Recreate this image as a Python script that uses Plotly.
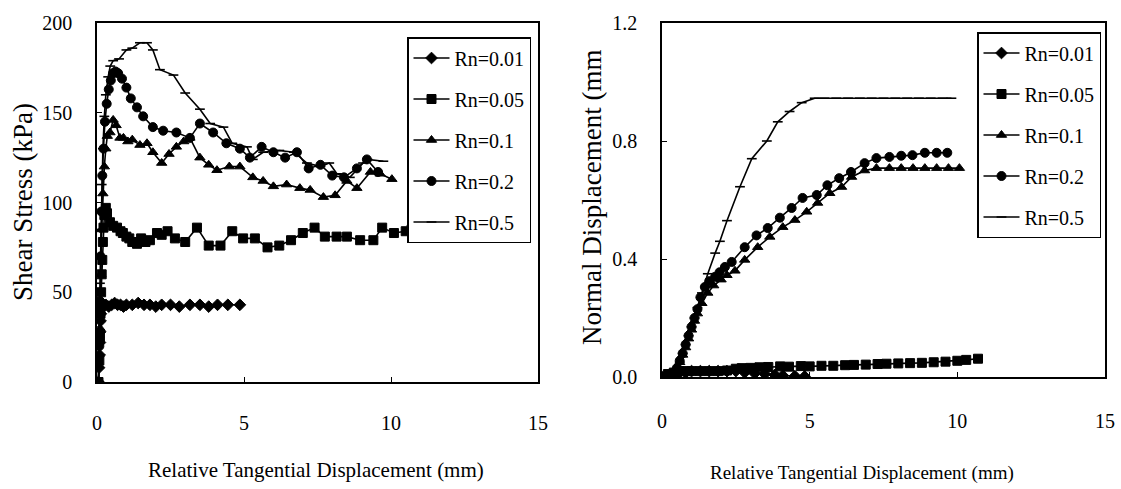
import plotly.graph_objects as go

W, H = 1121, 489
SERIF = "Liberation Serif"

names = ["Rn=0.01", "Rn=0.05", "Rn=0.1", "Rn=0.2", "Rn=0.5"]
symbols = ["diamond", "square", "triangle-up", "circle", "line-ew"]

# ---- Left panel: shear stress (kPa) vs relative tangential displacement (mm)
s001_x = [0.05, 0.07, 0.09, 0.1, 0.11, 0.12, 0.13, 0.14, 0.15, 0.17, 0.2, 0.3, 0.4, 0.5, 0.6, 0.7,
          0.8, 0.9, 1.0, 1.2, 1.4, 1.6, 1.8, 2.0, 2.2, 2.5, 2.8, 3.16, 3.5, 3.8, 4.1, 4.45, 4.86]
s001_y = [0, 8, 15, 22, 28, 34, 38, 41, 43, 44, 43, 43, 42, 43, 44, 43, 43, 42, 43, 43, 44, 43, 43,
          42, 43, 43, 42, 43, 43, 42, 43, 43, 43]

s005_x = [0.05, 0.08, 0.1, 0.12, 0.14, 0.16, 0.18, 0.2, 0.22, 0.25, 0.3, 0.34, 0.44, 0.55, 0.68,
          0.8, 0.88, 1.0, 1.1, 1.2, 1.36, 1.5, 1.65, 1.8, 2.04, 2.2, 2.4, 2.65, 3.0, 3.4, 3.8, 4.2,
          4.6, 4.97, 5.37, 5.8, 6.2, 6.6, 7.0, 7.4, 7.75, 8.15, 8.5, 8.95, 9.4, 9.7, 10.1, 10.5, 10.7]
s005_y = [0, 12, 25, 38, 50, 60, 68, 78, 86, 93, 97, 94, 89, 87, 86, 84, 83, 81, 80, 78, 77, 80,
          78, 79, 83, 82, 84, 80, 78, 86, 76, 76, 84, 80, 80, 75, 76, 79, 83, 86, 81, 81, 81, 79,
          79, 86, 83, 84, 85]

s01_x = [0.05, 0.1, 0.13, 0.16, 0.2, 0.25, 0.3, 0.35, 0.44, 0.55, 0.65, 0.78, 0.9, 1.05, 1.2,
         1.46, 1.7, 1.9, 2.2, 2.45, 2.7, 2.95, 3.16, 3.5, 3.8, 4.08, 4.5, 4.86, 5.3, 5.65, 6.0,
         6.45, 6.9, 7.25, 7.7, 8.1, 8.5, 8.84, 9.3, 9.63, 10.03]
s01_y = [0, 30, 60, 85, 105, 120, 130, 137, 139, 146, 143, 136, 136, 134, 135, 132, 133, 128,
         122, 127, 131, 134, 136, 125, 121, 118, 120, 120, 114, 112, 109, 110, 108, 107, 103, 104,
         112, 108, 117, 116, 113]

s02_x = [0.05, 0.08, 0.1, 0.12, 0.15, 0.18, 0.22, 0.27, 0.33, 0.4, 0.47, 0.55, 0.63, 0.72, 0.85,
         1.0, 1.15, 1.36, 1.57, 1.9, 2.25, 2.7, 3.16, 3.5, 3.95, 4.4, 4.86, 5.2, 5.6, 6.0, 6.4,
         6.8, 7.2, 7.6, 8.0, 8.4, 8.84, 9.18, 9.56]
s02_y = [0, 20, 45, 70, 95, 115, 130, 145, 155, 163, 168, 172, 173, 172, 169, 164, 158, 153, 148,
         142, 140, 139, 136, 144, 139, 133, 130, 125, 131, 128, 125, 128, 119, 121, 115, 114, 119,
         124, 117]

s05_x = [0.05, 0.08, 0.1, 0.13, 0.16, 0.2, 0.25, 0.3, 0.38, 0.45, 0.55, 0.75, 1.0, 1.2, 1.46, 1.7,
         1.9, 2.14, 2.6, 3.0, 3.5, 3.85, 4.3, 4.6, 5.1, 5.3, 5.65, 6.2, 6.7, 7.14, 7.6, 7.9, 8.16,
         8.6, 9.05, 9.2, 9.74]
s05_y = [0, 25, 55, 85, 110, 130, 148, 160, 170, 176, 179, 180, 185, 186, 189, 189, 185, 174, 171,
         161, 152, 144, 142, 133, 131, 124, 128, 129, 128, 122, 120, 122, 116, 114, 122, 124, 123]

# ---- Right panel: normal displacement (mm) vs relative tangential displacement (mm)
n001_x = [0, 0.2, 0.4, 0.6, 0.8, 1.0, 1.3, 1.6, 1.9, 2.2, 2.5, 2.8, 3.14, 3.48, 3.82, 4.09, 4.5, 4.83]
n001_y = [0, 0.005, 0.01, 0.015, 0.015, 0.02, 0.02, 0.02, 0.02, 0.02, 0.02, 0.015, 0.012, 0.01,
          0.007, 0.005, 0.003, 0.002]

n005_x = [0, 0.2, 0.4, 0.6, 0.8, 1.0, 1.3, 1.6, 1.9, 2.2, 2.5, 2.7, 3.0, 3.3, 3.6, 4.0, 4.3, 4.7,
          5.0, 5.4, 5.8, 6.2, 6.5, 6.9, 7.3, 7.6, 8.0, 8.4, 8.8, 9.2, 9.6, 10.0, 10.3, 10.7]
n005_y = [0, 0.01, 0.015, 0.02, 0.02, 0.02, 0.02, 0.02, 0.02, 0.022, 0.028, 0.03, 0.031, 0.033,
          0.034, 0.036, 0.035, 0.037, 0.036, 0.038, 0.038, 0.04, 0.041, 0.042, 0.044, 0.045, 0.046,
          0.047, 0.048, 0.05, 0.052, 0.055, 0.058, 0.062]

n01_x = [0, 0.2, 0.4, 0.5, 0.6, 0.7, 0.8, 0.9, 1.0, 1.1, 1.2, 1.35, 1.55, 1.75, 2.0, 2.2, 2.47,
         2.8, 3.24, 3.65, 4.09, 4.5, 4.9, 5.27, 5.68, 6.08, 6.42, 6.86, 7.26, 7.7, 8.1, 8.5, 8.9,
         9.3, 9.7, 10.07]
n01_y = [0, 0.005, 0.015, 0.03, 0.05, 0.075, 0.1, 0.13, 0.16, 0.19, 0.215, 0.25, 0.285, 0.31,
         0.33, 0.345, 0.36, 0.397, 0.44, 0.475, 0.508, 0.532, 0.56, 0.59, 0.623, 0.644, 0.678,
         0.7, 0.708, 0.708, 0.708, 0.708, 0.708, 0.708, 0.708, 0.708]

n02_x = [0, 0.2, 0.4, 0.5, 0.6, 0.7, 0.8, 0.9, 1.0, 1.1, 1.2, 1.3, 1.45, 1.6, 1.8, 1.95, 2.13,
         2.36, 2.8, 3.2, 3.58, 3.99, 4.39, 4.76, 5.24, 5.6, 6.0, 6.4, 6.86, 7.26, 7.7, 8.1, 8.48,
         8.9, 9.3, 9.66]
n02_y = [0, 0.005, 0.015, 0.03, 0.055, 0.08, 0.11, 0.14, 0.17, 0.2, 0.23, 0.27, 0.305, 0.325,
         0.34, 0.355, 0.373, 0.39, 0.44, 0.48, 0.505, 0.54, 0.573, 0.607, 0.617, 0.65, 0.674,
         0.695, 0.725, 0.742, 0.746, 0.75, 0.752, 0.76, 0.76, 0.76]

n05_x = [0, 0.2, 0.4, 0.5, 0.6, 0.7, 0.8, 0.9, 1.0, 1.1, 1.2, 1.35, 1.55, 1.8, 1.96, 2.2, 2.64,
         3.04, 3.55, 3.92, 4.32, 4.73, 5.17, 5.5, 5.9, 6.3, 6.7, 7.1, 7.5, 7.9, 8.3, 8.7, 9.1,
         9.5, 9.8]
n05_y = [0, 0.005, 0.012, 0.025, 0.05, 0.08, 0.11, 0.14, 0.17, 0.2, 0.235, 0.285, 0.35, 0.42,
         0.46, 0.53, 0.645, 0.74, 0.8, 0.865, 0.9, 0.93, 0.945, 0.945, 0.945, 0.945, 0.945, 0.945,
         0.945, 0.945, 0.945, 0.945, 0.945, 0.945, 0.945]

left_series = [(s001_x, s001_y), (s005_x, s005_y), (s01_x, s01_y), (s02_x, s02_y), (s05_x, s05_y)]
right_series = [(n001_x, n001_y), (n005_x, n005_y), (n01_x, n01_y), (n02_x, n02_y), (n05_x, n05_y)]

fig = go.Figure()


def add_series(series, xa, ya, legend, grp):
    for i, (xs, ys) in enumerate(series):
        sym = symbols[i]
        mk = dict(symbol=sym, size=9, color="black", line=dict(color="black", width=1))
        if sym == "line-ew":
            mk = dict(symbol="line-ew", size=7, color="black", line=dict(color="black", width=1.6))
        fig.add_trace(go.Scatter(
            x=xs, y=ys, mode="lines+markers", name=names[i],
            line=dict(color="black", width=1.6), marker=mk,
            xaxis=xa, yaxis=ya, legend=legend, legendgroup=f"{grp}{i}",
        ))


add_series(left_series, "x", "y", "legend", "L")
add_series(right_series, "x2", "y2", "legend2", "R")


def px_x(p):
    return p / W


def px_y(p):
    return 1 - p / H


axis_common = dict(
    showline=True, linecolor="black", linewidth=1.5, mirror=True, showgrid=False,
    zeroline=False, ticks="inside", ticklen=5, tickcolor="black", automargin=False,
    ticklabeloverflow="allow",
    tickfont=dict(family=SERIF, size=20, color="black"),
)

fig.update_layout(
    template="none",
    width=W, height=H,
    margin=dict(l=0, r=0, t=0, b=0, pad=0, autoexpand=False),
    paper_bgcolor="white", plot_bgcolor="white",
    xaxis=dict(domain=[px_x(97), px_x(538)], range=[0, 15], tickvals=[0, 5, 10, 15],
               anchor="y", ticklabelstandoff=22, **axis_common),
    yaxis=dict(domain=[px_y(382), px_y(23)], range=[0, 200], tickvals=[0, 50, 100, 150, 200],
               anchor="x", ticklabelstandoff=19, **axis_common),
    xaxis2=dict(domain=[px_x(662), px_x(1105)], range=[0, 15], tickvals=[0, 5, 10, 15],
                anchor="y2", ticklabelstandoff=25, **axis_common),
    yaxis2=dict(domain=[px_y(377), px_y(23)], range=[0, 1.2], tickvals=[0, 0.4, 0.8, 1.2],
                tickformat=".1f", anchor="x2", ticklabelstandoff=19, **axis_common),
    legend=dict(x=px_x(407), y=px_y(37), xanchor="left", yanchor="top",
                bordercolor="black", borderwidth=1.5, bgcolor="white", itemwidth=36,
                font=dict(family=SERIF, size=20, color="black"), tracegroupgap=12),
    legend2=dict(x=px_x(977), y=px_y(32), xanchor="left", yanchor="top",
                 bordercolor="black", borderwidth=1.5, bgcolor="white", itemwidth=36,
                 font=dict(family=SERIF, size=20, color="black"), tracegroupgap=12),
    showlegend=True,
)

ann_font = dict(family=SERIF, color="black")
fig.add_annotation(text="Shear Stress (kPa)", x=px_x(23), y=px_y(202), xref="paper", yref="paper",
                   xanchor="center", yanchor="middle",
                   textangle=-90, showarrow=False, font=dict(size=27, **ann_font))
fig.add_annotation(text="Relative Tangential Displacement (mm)", x=px_x(316), y=px_y(470),
                   xanchor="center", yanchor="middle",
                   xref="paper", yref="paper", showarrow=False, font=dict(size=21, **ann_font))
fig.add_annotation(text="Normal Displacement (mm", x=px_x(592), y=px_y(198), xref="paper",
                   xanchor="center", yanchor="middle",
                   yref="paper", textangle=-90, showarrow=False, font=dict(size=27, **ann_font))
fig.add_annotation(text="Relative Tangential Displacement (mm)", x=px_x(862), y=px_y(473),
                   xanchor="center", yanchor="middle",
                   xref="paper", yref="paper", showarrow=False, font=dict(size=19, **ann_font))

# Remove the default page margin so the figure fills the window exactly.
page_fix = ("document.documentElement.style.margin='0';document.body.style.margin='0';"
            "document.documentElement.style.overflow='hidden';document.body.style.overflow='hidden';")
fig.write_html("out.html", post_script=page_fix, config={"displayModeBar": False})
